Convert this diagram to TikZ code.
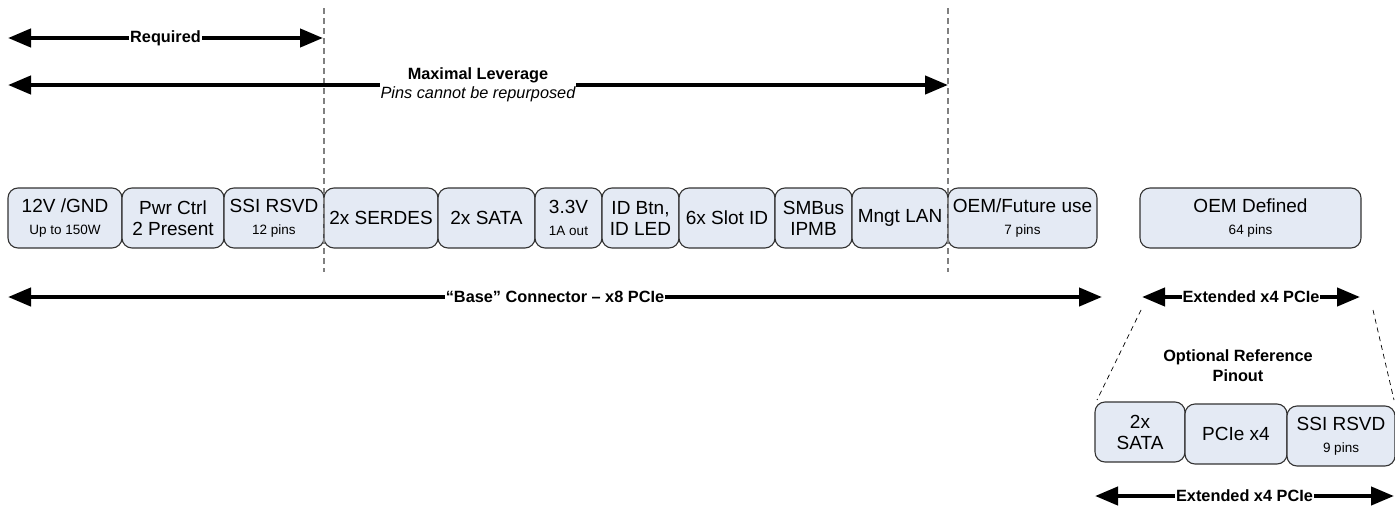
\documentclass[tikz,border=0pt]{standalone}
\usepackage{fontspec}
\setmainfont{Liberation Sans}
\usepackage{tikz}
\usetikzlibrary{
  	positioning,
  	arrows.meta
  }
\definecolor{pinfill}{HTML}{E4EAF4}
\definecolor{pinline}{HTML}{333333}
\tikzstyle{pin}=[draw=pinline,fill=pinfill,rounded corners=10pt,line width=1.1pt,outer sep=0pt,
  minimum height=60pt,inner sep=0pt,align=center,font=\fontsize{19}{21}\selectfont]
\tikzstyle{span}=[line width=4.2pt,{Triangle[length=23pt,width=18pt]}-{Triangle[length=23pt,width=18pt]}]
\tikzstyle{spanlbl}=[fill=white,inner xsep=1pt,inner ysep=0pt,font=\fontsize{16.3}{18}\selectfont\bfseries]
\tikzstyle{cut}=[gray,dashed,line width=1.1pt,dash pattern=on 6pt off 4pt]
\newcommand{\sm}[1]{{\fontsize{13.5}{15}\selectfont #1}}

\begin{document}
\begin{tikzpicture}[x=1pt,y=-1pt]
  \useasboundingbox (0,0) rectangle (1395,506);
  % base connector pins
  \node [pin, minimum width=114pt, anchor=north west] (p12v) at (8,188) {12V /GND\\[1pt]\sm{Up to 150W}};
  \node [pin, minimum width=102pt, right=0pt of p12v] (pwr) {Pwr Ctrl\\2 Present};
  \node [pin, minimum width=100pt, right=0pt of pwr] (ssi) {SSI RSVD\\[1pt]\sm{12 pins}};
  \node [pin, minimum width=114pt, right=0pt of ssi] (serdes) {2x SERDES};
  \node [pin, minimum width=97pt, right=0pt of serdes] (sata) {2x SATA};
  \node [pin, minimum width=67pt, right=0pt of sata] (v33) {3.3V\\[1pt]\sm{1A out}};
  \node [pin, minimum width=77pt, right=0pt of v33] (idbtn) {ID Btn,\\ID LED};
  \node [pin, minimum width=96pt, right=0pt of idbtn] (slot) {6x Slot ID};
  \node [pin, minimum width=77pt, right=0pt of slot] (smbus) {SMBus\\IPMB};
  \node [pin, minimum width=96pt, right=0pt of smbus] (lan) {Mngt LAN};
  \node [pin, minimum width=149pt, right=0pt of lan] (oem) {OEM/Future use\\[1pt]\sm{7 pins}};
  \node [pin, minimum width=221pt, anchor=north west] (oemdef) at (1140,188) {OEM Defined\\[1pt]\sm{64 pins}};
%
  % optional reference pinout
  \node [pin, minimum width=90pt, anchor=north west] (xsata) at (1095,402) {2x\\SATA};
  \node [pin, minimum width=102pt, anchor=north west] (xpcie) at (1185,404) {PCIe x4};
  \node [pin, minimum width=108pt, anchor=north west] (xssi) at (1287,406) {SSI RSVD\\[1pt]\sm{9 pins}};
  \node [align=center, font=\fontsize{16.3}{20}\selectfont\bfseries] (optref) at (1238,366) {Optional Reference\\Pinout};
%
  \coordinate (cutAt) at (324,8);
  \coordinate (cutAb) at (324,272);
  \coordinate (cutBt) at (948,8);
  \coordinate (cutBb) at (948,272);
  \draw [cut] (cutAt) -- (cutAb);
  \draw [cut] (cutBt) -- (cutBb);
  \coordinate (zoomLt) at (1141,310);
  \coordinate (zoomLb) at (1097,400);
  \coordinate (zoomRt) at (1373,310);
  \coordinate (zoomRb) at (1394,400);
  \draw [cut, black, line width=0.7pt, dash pattern=on 5pt off 4pt] (zoomLt) -- (zoomLb);
  \draw [cut, black, line width=0.7pt, dash pattern=on 5pt off 4pt] (zoomRt) -- (zoomRb);
%
  % spans
  \coordinate (reqL) at (8,38);
  \coordinate (reqR) at (323,38);
  \draw [span] (reqL) -- node [spanlbl] {Required} (reqR);
  \coordinate (levL) at (8,85);
  \coordinate (levR) at (948,85);
  \draw [span] (levL) -- node [spanlbl, align=center, inner ysep=1pt, font=\fontsize{16.3}{19}\selectfont]
     {\bfseries Maximal Leverage\\\itshape Pins cannot be repurposed} (levR);
  \coordinate (baseL) at (8,297);
  \coordinate (baseR) at (1102,297);
  \draw [span] (baseL) -- node [spanlbl] {“Base” Connector – x8 PCIe} (baseR);
  \coordinate (extL) at (1142,297);
  \coordinate (extR) at (1360,297);
  \draw [span] (extL) -- node [spanlbl] {Extended x4 PCIe} (extR);
  \coordinate (extbL) at (1095,496);
  \coordinate (extbR) at (1394,496);
  \draw [span] (extbL) -- node [spanlbl] {Extended x4 PCIe} (extbR);
\end{tikzpicture}
\end{document}
